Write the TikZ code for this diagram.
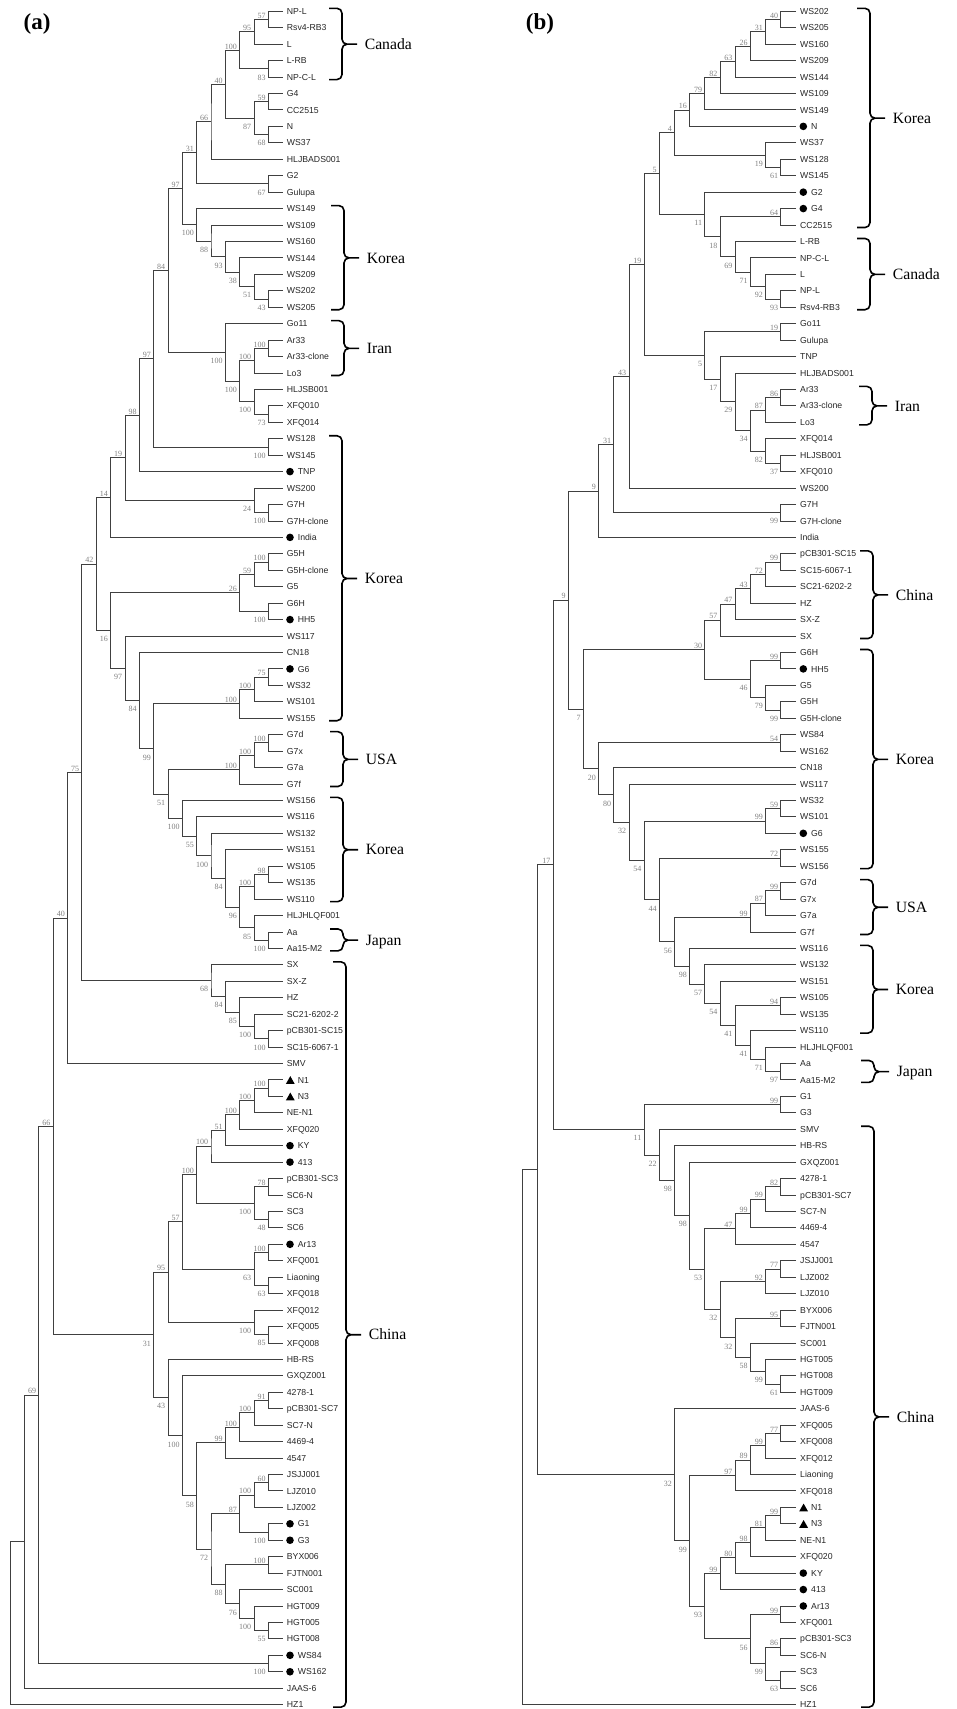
\documentclass[tikz,border=0pt]{standalone}
\usepackage{fontspec}
\setmainfont{Liberation Serif}
\setsansfont{Liberation Sans}
\usetikzlibrary{calc}

% one taxon: end point of its branch plus its name
\newcommand\leaf[4][]{%
  \coordinate (#2) at (\treex,{11.3+(#3-1)*16.44});
  \node[leaftext,#1] (#2t) at (#2) {#4};}
\newcommand\dotleaf[3]{%
  \leaf[xshift=11pt]{#1}{#2}{#3}
  \fill[blob] ([xshift=7.3pt]#1) circle (3.8pt);}
\newcommand\trileaf[3]{%
  \leaf[xshift=11pt]{#1}{#2}{#3}
  \fill[blob] ([shift={(7.6,-3.8)}]#1) -- ++(4.4,7.8) -- ++(-8.8,0) -- cycle;}
% joins two children at depth #4, with its bootstrap value
\newcommand\clade[6]{%
  \path let \p1=(#2), \p2=(#3) in
    coordinate (#1) at ({(\treex-#4*\treestep)*1pt},{0.5*(\y1+\y2)});
  \draw[branch] (#2) -| (#1) |- (#3);
  \node[boot,#6] (#1v) at (#1) {#5};}
% brace over a run of taxa, with the region name
\newcommand\clamp[4]{%
  \draw[brc] let \p1=(#1), \p2=(#2) in
    (#3pt,{\y1+3pt}) -| ({#3pt+13pt},{0.5*(\y1+\y2)}) -- ({#3pt+28pt},{0.5*(\y1+\y2)})
    (#3pt,{\y2-2.5pt}) -| ({#3pt+13pt},{0.5*(\y1+\y2)}) -- ({#3pt+28pt},{0.5*(\y1+\y2)})
    node[region] {#4};}

\begin{document}
\begin{tikzpicture}[x=1pt, y=-1pt,
  branch/.style={draw=black!75, line width=0.9pt},
  leaftext/.style={anchor=west, inner sep=0pt, xshift=4pt, text height=6.2pt, text depth=0pt,
    font=\sffamily\fontsize{8.7}{10}\selectfont, text=black!85},
  blob/.style={fill=black},
  boot/.style={anchor=base east, inner sep=0pt, font=\fontsize{8}{9}\selectfont, text=black!50},
  abv/.style={xshift=-2.6pt, yshift=1.2pt},
  blw/.style={xshift=-2.6pt, yshift=-11.2pt},
  brc/.style={draw=black, line width=1.6pt, rounded corners=5pt},
  region/.style={anchor=west, inner sep=0pt, xshift=7pt, text height=10.4pt, text depth=0pt,
    font=\fontsize{15.7}{18}\selectfont},
  panel/.style={font=\bfseries\fontsize{23}{26}\selectfont, inner sep=0pt}]
\useasboundingbox (0,0) rectangle (957,1709);
\node[panel] (pa) at (37,24) {(a)};
\node[panel] (pb) at (540,24) {(b)};

% ---------------- tree (a)
\def\treex{282.7}\def\treestep{14.34}
\leaf{a1}{1}{NP-L}
\leaf{a2}{2}{Rsv4-RB3}
\leaf{a3}{3}{L}
\leaf{a4}{4}{L-RB}
\leaf{a5}{5}{NP-C-L}
\leaf{a6}{6}{G4}
\leaf{a7}{7}{CC2515}
\leaf{a8}{8}{N}
\leaf{a9}{9}{WS37}
\leaf{a10}{10}{HLJBADS001}
\leaf{a11}{11}{G2}
\leaf{a12}{12}{Gulupa}
\leaf{a13}{13}{WS149}
\leaf{a14}{14}{WS109}
\leaf{a15}{15}{WS160}
\leaf{a16}{16}{WS144}
\leaf{a17}{17}{WS209}
\leaf{a18}{18}{WS202}
\leaf{a19}{19}{WS205}
\leaf{a20}{20}{Go11}
\leaf{a21}{21}{Ar33}
\leaf{a22}{22}{Ar33-clone}
\leaf{a23}{23}{Lo3}
\leaf{a24}{24}{HLJSB001}
\leaf{a25}{25}{XFQ010}
\leaf{a26}{26}{XFQ014}
\leaf{a27}{27}{WS128}
\leaf{a28}{28}{WS145}
\dotleaf{a29}{29}{TNP}
\leaf{a30}{30}{WS200}
\leaf{a31}{31}{G7H}
\leaf{a32}{32}{G7H-clone}
\dotleaf{a33}{33}{India}
\leaf{a34}{34}{G5H}
\leaf{a35}{35}{G5H-clone}
\leaf{a36}{36}{G5}
\leaf{a37}{37}{G6H}
\dotleaf{a38}{38}{HH5}
\leaf{a39}{39}{WS117}
\leaf{a40}{40}{CN18}
\dotleaf{a41}{41}{G6}
\leaf{a42}{42}{WS32}
\leaf{a43}{43}{WS101}
\leaf{a44}{44}{WS155}
\leaf{a45}{45}{G7d}
\leaf{a46}{46}{G7x}
\leaf{a47}{47}{G7a}
\leaf{a48}{48}{G7f}
\leaf{a49}{49}{WS156}
\leaf{a50}{50}{WS116}
\leaf{a51}{51}{WS132}
\leaf{a52}{52}{WS151}
\leaf{a53}{53}{WS105}
\leaf{a54}{54}{WS135}
\leaf{a55}{55}{WS110}
\leaf{a56}{56}{HLJHLQF001}
\leaf{a57}{57}{Aa}
\leaf{a58}{58}{Aa15-M2}
\leaf{a59}{59}{SX}
\leaf{a60}{60}{SX-Z}
\leaf{a61}{61}{HZ}
\leaf{a62}{62}{SC21-6202-2}
\leaf{a63}{63}{pCB301-SC15}
\leaf{a64}{64}{SC15-6067-1}
\leaf{a65}{65}{SMV}
\trileaf{a66}{66}{N1}
\trileaf{a67}{67}{N3}
\leaf{a68}{68}{NE-N1}
\leaf{a69}{69}{XFQ020}
\dotleaf{a70}{70}{KY}
\dotleaf{a71}{71}{413}
\leaf{a72}{72}{pCB301-SC3}
\leaf{a73}{73}{SC6-N}
\leaf{a74}{74}{SC3}
\leaf{a75}{75}{SC6}
\dotleaf{a76}{76}{Ar13}
\leaf{a77}{77}{XFQ001}
\leaf{a78}{78}{Liaoning}
\leaf{a79}{79}{XFQ018}
\leaf{a80}{80}{XFQ012}
\leaf{a81}{81}{XFQ005}
\leaf{a82}{82}{XFQ008}
\leaf{a83}{83}{HB-RS}
\leaf{a84}{84}{GXQZ001}
\leaf{a85}{85}{4278-1}
\leaf{a86}{86}{pCB301-SC7}
\leaf{a87}{87}{SC7-N}
\leaf{a88}{88}{4469-4}
\leaf{a89}{89}{4547}
\leaf{a90}{90}{JSJJ001}
\leaf{a91}{91}{LJZ010}
\leaf{a92}{92}{LJZ002}
\dotleaf{a93}{93}{G1}
\dotleaf{a94}{94}{G3}
\leaf{a95}{95}{BYX006}
\leaf{a96}{96}{FJTN001}
\leaf{a97}{97}{SC001}
\leaf{a98}{98}{HGT009}
\leaf{a99}{99}{HGT005}
\leaf{a100}{100}{HGT008}
\dotleaf{a101}{101}{WS84}
\dotleaf{a102}{102}{WS162}
\leaf{a103}{103}{JAAS-6}
\leaf{a104}{104}{HZ1}

\clade{a1to2}{a1}{a2}{1}{57}{abv}
\clade{a1to3}{a1to2}{a3}{2}{95}{abv}
\clade{a4to5}{a4}{a5}{1}{83}{blw}
\clade{a1to5}{a1to3}{a4to5}{3}{100}{abv}
\clade{a6to7}{a6}{a7}{1}{59}{abv}
\clade{a8to9}{a8}{a9}{1}{68}{blw}
\clade{a6to9}{a6to7}{a8to9}{2}{87}{blw}
\clade{a1to9}{a1to5}{a6to9}{4}{40}{abv}
\clade{a1to10}{a1to9}{a10}{5}{66}{abv}
\clade{a11to12}{a11}{a12}{1}{67}{blw}
\clade{a1to12}{a1to10}{a11to12}{6}{31}{abv}
\clade{a18to19}{a18}{a19}{1}{43}{blw}
\clade{a17to19}{a17}{a18to19}{2}{51}{blw}
\clade{a16to19}{a16}{a17to19}{3}{38}{blw}
\clade{a15to19}{a15}{a16to19}{4}{93}{blw}
\clade{a14to19}{a14}{a15to19}{5}{88}{blw}
\clade{a13to19}{a13}{a14to19}{6}{100}{blw}
\clade{a1to19}{a1to12}{a13to19}{7}{97}{abv}
\clade{a21to22}{a21}{a22}{1}{100}{abv}
\clade{a21to23}{a21to22}{a23}{2}{100}{abv}
\clade{a25to26}{a25}{a26}{1}{73}{blw}
\clade{a24to26}{a24}{a25to26}{2}{100}{blw}
\clade{a21to26}{a21to23}{a24to26}{3}{100}{blw}
\clade{a20to26}{a20}{a21to26}{4}{100}{blw}
\clade{a1to26}{a1to19}{a20to26}{8}{84}{abv}
\clade{a27to28}{a27}{a28}{1}{100}{blw}
\clade{a1to28}{a1to26}{a27to28}{9}{97}{abv}
\clade{a1to29}{a1to28}{a29}{10}{98}{abv}
\clade{a31to32}{a31}{a32}{1}{100}{blw}
\clade{a30to32}{a30}{a31to32}{2}{24}{blw}
\clade{a1to32}{a1to29}{a30to32}{11}{19}{abv}
\clade{a1to33}{a1to32}{a33}{12}{14}{abv}
\clade{a34to35}{a34}{a35}{1}{100}{abv}
\clade{a34to36}{a34to35}{a36}{2}{59}{abv}
\clade{a37to38}{a37}{a38}{1}{100}{blw}
\clade{a34to38}{a34to36}{a37to38}{3}{26}{abv}
\clade{a41to42}{a41}{a42}{1}{75}{abv}
\clade{a41to43}{a41to42}{a43}{2}{100}{abv}
\clade{a41to44}{a41to43}{a44}{3}{100}{abv}
\clade{a45to46}{a45}{a46}{1}{100}{abv}
\clade{a45to47}{a45to46}{a47}{2}{100}{abv}
\clade{a45to48}{a45to47}{a48}{3}{100}{abv}
\clade{a53to54}{a53}{a54}{1}{98}{abv}
\clade{a53to55}{a53to54}{a55}{2}{100}{abv}
\clade{a57to58}{a57}{a58}{1}{100}{blw}
\clade{a56to58}{a56}{a57to58}{2}{85}{blw}
\clade{a53to58}{a53to55}{a56to58}{3}{96}{blw}
\clade{a52to58}{a52}{a53to58}{4}{84}{blw}
\clade{a51to58}{a51}{a52to58}{5}{100}{blw}
\clade{a50to58}{a50}{a51to58}{6}{55}{blw}
\clade{a49to58}{a49}{a50to58}{7}{100}{blw}
\clade{a45to58}{a45to48}{a49to58}{8}{51}{blw}
\clade{a41to58}{a41to44}{a45to58}{9}{99}{blw}
\clade{a40to58}{a40}{a41to58}{10}{84}{blw}
\clade{a39to58}{a39}{a40to58}{11}{97}{blw}
\clade{a34to58}{a34to38}{a39to58}{12}{16}{blw}
\clade{a1to58}{a1to33}{a34to58}{13}{42}{abv}
\clade{a63to64}{a63}{a64}{1}{100}{blw}
\clade{a62to64}{a62}{a63to64}{2}{100}{blw}
\clade{a61to64}{a61}{a62to64}{3}{85}{blw}
\clade{a60to64}{a60}{a61to64}{4}{84}{blw}
\clade{a59to64}{a59}{a60to64}{5}{68}{blw}
\clade{a1to64}{a1to58}{a59to64}{14}{75}{abv}
\clade{a1to65}{a1to64}{a65}{15}{40}{abv}
\clade{a66to67}{a66}{a67}{1}{100}{abv}
\clade{a66to68}{a66to67}{a68}{2}{100}{abv}
\clade{a66to69}{a66to68}{a69}{3}{100}{abv}
\clade{a66to70}{a66to69}{a70}{4}{51}{abv}
\clade{a66to71}{a66to70}{a71}{5}{100}{abv}
\clade{a72to73}{a72}{a73}{1}{78}{abv}
\clade{a74to75}{a74}{a75}{1}{48}{blw}
\clade{a72to75}{a72to73}{a74to75}{2}{100}{blw}
\clade{a66to75}{a66to71}{a72to75}{6}{100}{abv}
\clade{a76to77}{a76}{a77}{1}{100}{abv}
\clade{a78to79}{a78}{a79}{1}{63}{blw}
\clade{a76to79}{a76to77}{a78to79}{2}{63}{blw}
\clade{a66to79}{a66to75}{a76to79}{7}{57}{abv}
\clade{a81to82}{a81}{a82}{1}{85}{blw}
\clade{a80to82}{a80}{a81to82}{2}{100}{blw}
\clade{a66to82}{a66to79}{a80to82}{8}{95}{abv}
\clade{a85to86}{a85}{a86}{1}{91}{abv}
\clade{a85to87}{a85to86}{a87}{2}{100}{abv}
\clade{a85to88}{a85to87}{a88}{3}{100}{abv}
\clade{a85to89}{a85to88}{a89}{4}{99}{abv}
\clade{a90to91}{a90}{a91}{1}{60}{abv}
\clade{a90to92}{a90to91}{a92}{2}{100}{abv}
\clade{a93to94}{a93}{a94}{1}{100}{blw}
\clade{a90to94}{a90to92}{a93to94}{3}{87}{abv}
\clade{a95to96}{a95}{a96}{1}{100}{abv}
\clade{a99to100}{a99}{a100}{1}{55}{blw}
\clade{a98to100}{a98}{a99to100}{2}{100}{blw}
\clade{a97to100}{a97}{a98to100}{3}{76}{blw}
\clade{a95to100}{a95to96}{a97to100}{4}{88}{blw}
\clade{a90to100}{a90to94}{a95to100}{5}{72}{blw}
\clade{a85to100}{a85to89}{a90to100}{6}{58}{blw}
\clade{a84to100}{a84}{a85to100}{7}{100}{blw}
\clade{a83to100}{a83}{a84to100}{8}{43}{blw}
\clade{a66to100}{a66to82}{a83to100}{9}{31}{blw}
\clade{a1to100}{a1to65}{a66to100}{16}{66}{abv}
\clade{a101to102}{a101}{a102}{1}{100}{blw}
\clade{a1to102}{a1to100}{a101to102}{17}{69}{abv}
\clade{a1to103}{a1to102}{a103}{18}{}{abv}
\clade{a1to104}{a1to103}{a104}{19}{}{abv}

\clamp{a1}{a5}{329}{Canada}
\clamp{a13}{a19}{331}{Korea}
\clamp{a20}{a23}{331}{Iran}
\clamp{a27}{a44}{329}{Korea}
\clamp{a45}{a48}{330}{USA}
\clamp{a49}{a55}{330}{Korea}
\clamp{a57}{a58}{330}{Japan}
\clamp{a59}{a104}{333}{China}

% ---------------- tree (b)
\def\treex{796}\def\treestep{15.18}
\leaf{b1}{1}{WS202}
\leaf{b2}{2}{WS205}
\leaf{b3}{3}{WS160}
\leaf{b4}{4}{WS209}
\leaf{b5}{5}{WS144}
\leaf{b6}{6}{WS109}
\leaf{b7}{7}{WS149}
\dotleaf{b8}{8}{N}
\leaf{b9}{9}{WS37}
\leaf{b10}{10}{WS128}
\leaf{b11}{11}{WS145}
\dotleaf{b12}{12}{G2}
\dotleaf{b13}{13}{G4}
\leaf{b14}{14}{CC2515}
\leaf{b15}{15}{L-RB}
\leaf{b16}{16}{NP-C-L}
\leaf{b17}{17}{L}
\leaf{b18}{18}{NP-L}
\leaf{b19}{19}{Rsv4-RB3}
\leaf{b20}{20}{Go11}
\leaf{b21}{21}{Gulupa}
\leaf{b22}{22}{TNP}
\leaf{b23}{23}{HLJBADS001}
\leaf{b24}{24}{Ar33}
\leaf{b25}{25}{Ar33-clone}
\leaf{b26}{26}{Lo3}
\leaf{b27}{27}{XFQ014}
\leaf{b28}{28}{HLJSB001}
\leaf{b29}{29}{XFQ010}
\leaf{b30}{30}{WS200}
\leaf{b31}{31}{G7H}
\leaf{b32}{32}{G7H-clone}
\leaf{b33}{33}{India}
\leaf{b34}{34}{pCB301-SC15}
\leaf{b35}{35}{SC15-6067-1}
\leaf{b36}{36}{SC21-6202-2}
\leaf{b37}{37}{HZ}
\leaf{b38}{38}{SX-Z}
\leaf{b39}{39}{SX}
\leaf{b40}{40}{G6H}
\dotleaf{b41}{41}{HH5}
\leaf{b42}{42}{G5}
\leaf{b43}{43}{G5H}
\leaf{b44}{44}{G5H-clone}
\leaf{b45}{45}{WS84}
\leaf{b46}{46}{WS162}
\leaf{b47}{47}{CN18}
\leaf{b48}{48}{WS117}
\leaf{b49}{49}{WS32}
\leaf{b50}{50}{WS101}
\dotleaf{b51}{51}{G6}
\leaf{b52}{52}{WS155}
\leaf{b53}{53}{WS156}
\leaf{b54}{54}{G7d}
\leaf{b55}{55}{G7x}
\leaf{b56}{56}{G7a}
\leaf{b57}{57}{G7f}
\leaf{b58}{58}{WS116}
\leaf{b59}{59}{WS132}
\leaf{b60}{60}{WS151}
\leaf{b61}{61}{WS105}
\leaf{b62}{62}{WS135}
\leaf{b63}{63}{WS110}
\leaf{b64}{64}{HLJHLQF001}
\leaf{b65}{65}{Aa}
\leaf{b66}{66}{Aa15-M2}
\leaf{b67}{67}{G1}
\leaf{b68}{68}{G3}
\leaf{b69}{69}{SMV}
\leaf{b70}{70}{HB-RS}
\leaf{b71}{71}{GXQZ001}
\leaf{b72}{72}{4278-1}
\leaf{b73}{73}{pCB301-SC7}
\leaf{b74}{74}{SC7-N}
\leaf{b75}{75}{4469-4}
\leaf{b76}{76}{4547}
\leaf{b77}{77}{JSJJ001}
\leaf{b78}{78}{LJZ002}
\leaf{b79}{79}{LJZ010}
\leaf{b80}{80}{BYX006}
\leaf{b81}{81}{FJTN001}
\leaf{b82}{82}{SC001}
\leaf{b83}{83}{HGT005}
\leaf{b84}{84}{HGT008}
\leaf{b85}{85}{HGT009}
\leaf{b86}{86}{JAAS-6}
\leaf{b87}{87}{XFQ005}
\leaf{b88}{88}{XFQ008}
\leaf{b89}{89}{XFQ012}
\leaf{b90}{90}{Liaoning}
\leaf{b91}{91}{XFQ018}
\trileaf{b92}{92}{N1}
\trileaf{b93}{93}{N3}
\leaf{b94}{94}{NE-N1}
\leaf{b95}{95}{XFQ020}
\dotleaf{b96}{96}{KY}
\dotleaf{b97}{97}{413}
\dotleaf{b98}{98}{Ar13}
\leaf{b99}{99}{XFQ001}
\leaf{b100}{100}{pCB301-SC3}
\leaf{b101}{101}{SC6-N}
\leaf{b102}{102}{SC3}
\leaf{b103}{103}{SC6}
\leaf{b104}{104}{HZ1}

\clade{b1to2}{b1}{b2}{1}{40}{abv}
\clade{b1to3}{b1to2}{b3}{2}{31}{abv}
\clade{b1to4}{b1to3}{b4}{3}{26}{abv}
\clade{b1to5}{b1to4}{b5}{4}{63}{abv}
\clade{b1to6}{b1to5}{b6}{5}{82}{abv}
\clade{b1to7}{b1to6}{b7}{6}{79}{abv}
\clade{b1to8}{b1to7}{b8}{7}{16}{abv}
\clade{b10to11}{b10}{b11}{1}{61}{blw}
\clade{b9to11}{b9}{b10to11}{2}{19}{blw}
\clade{b1to11}{b1to8}{b9to11}{8}{4}{abv}
\clade{b13to14}{b13}{b14}{1}{64}{abv}
\clade{b18to19}{b18}{b19}{1}{93}{blw}
\clade{b17to19}{b17}{b18to19}{2}{92}{blw}
\clade{b16to19}{b16}{b17to19}{3}{71}{blw}
\clade{b15to19}{b15}{b16to19}{4}{69}{blw}
\clade{b13to19}{b13to14}{b15to19}{5}{18}{blw}
\clade{b12to19}{b12}{b13to19}{6}{11}{blw}
\clade{b1to19}{b1to11}{b12to19}{9}{5}{abv}
\clade{b20to21}{b20}{b21}{1}{19}{abv}
\clade{b24to25}{b24}{b25}{1}{86}{abv}
\clade{b24to26}{b24to25}{b26}{2}{87}{abv}
\clade{b28to29}{b28}{b29}{1}{37}{blw}
\clade{b27to29}{b27}{b28to29}{2}{82}{blw}
\clade{b24to29}{b24to26}{b27to29}{3}{34}{blw}
\clade{b23to29}{b23}{b24to29}{4}{29}{blw}
\clade{b22to29}{b22}{b23to29}{5}{17}{blw}
\clade{b20to29}{b20to21}{b22to29}{6}{5}{blw}
\clade{b1to29}{b1to19}{b20to29}{10}{19}{abv}
\clade{b1to30}{b1to29}{b30}{11}{43}{abv}
\clade{b31to32}{b31}{b32}{1}{99}{blw}
\clade{b1to32}{b1to30}{b31to32}{12}{31}{abv}
\clade{b1to33}{b1to32}{b33}{13}{9}{abv}
\clade{b34to35}{b34}{b35}{1}{99}{abv}
\clade{b34to36}{b34to35}{b36}{2}{72}{abv}
\clade{b34to37}{b34to36}{b37}{3}{43}{abv}
\clade{b34to38}{b34to37}{b38}{4}{47}{abv}
\clade{b34to39}{b34to38}{b39}{5}{57}{abv}
\clade{b40to41}{b40}{b41}{1}{99}{abv}
\clade{b43to44}{b43}{b44}{1}{99}{blw}
\clade{b42to44}{b42}{b43to44}{2}{79}{blw}
\clade{b40to44}{b40to41}{b42to44}{3}{46}{blw}
\clade{b34to44}{b34to39}{b40to44}{6}{30}{abv}
\clade{b45to46}{b45}{b46}{1}{54}{abv}
\clade{b49to50}{b49}{b50}{1}{59}{abv}
\clade{b49to51}{b49to50}{b51}{2}{99}{abv}
\clade{b52to53}{b52}{b53}{1}{72}{abv}
\clade{b54to55}{b54}{b55}{1}{99}{abv}
\clade{b54to56}{b54to55}{b56}{2}{87}{abv}
\clade{b54to57}{b54to56}{b57}{3}{99}{abv}
\clade{b61to62}{b61}{b62}{1}{94}{abv}
\clade{b65to66}{b65}{b66}{1}{97}{blw}
\clade{b64to66}{b64}{b65to66}{2}{71}{blw}
\clade{b63to66}{b63}{b64to66}{3}{41}{blw}
\clade{b61to66}{b61to62}{b63to66}{4}{41}{blw}
\clade{b60to66}{b60}{b61to66}{5}{54}{blw}
\clade{b59to66}{b59}{b60to66}{6}{57}{blw}
\clade{b58to66}{b58}{b59to66}{7}{98}{blw}
\clade{b54to66}{b54to57}{b58to66}{8}{56}{blw}
\clade{b52to66}{b52to53}{b54to66}{9}{44}{blw}
\clade{b49to66}{b49to51}{b52to66}{10}{54}{blw}
\clade{b48to66}{b48}{b49to66}{11}{32}{blw}
\clade{b47to66}{b47}{b48to66}{12}{80}{blw}
\clade{b45to66}{b45to46}{b47to66}{13}{20}{blw}
\clade{b34to66}{b34to44}{b45to66}{14}{7}{blw}
\clade{b1to66}{b1to33}{b34to66}{15}{9}{abv}
\clade{b67to68}{b67}{b68}{1}{99}{abv}
\clade{b72to73}{b72}{b73}{1}{82}{abv}
\clade{b72to74}{b72to73}{b74}{2}{99}{abv}
\clade{b72to75}{b72to74}{b75}{3}{99}{abv}
\clade{b72to76}{b72to75}{b76}{4}{47}{abv}
\clade{b77to78}{b77}{b78}{1}{77}{abv}
\clade{b77to79}{b77to78}{b79}{2}{92}{abv}
\clade{b80to81}{b80}{b81}{1}{95}{abv}
\clade{b84to85}{b84}{b85}{1}{61}{blw}
\clade{b83to85}{b83}{b84to85}{2}{99}{blw}
\clade{b82to85}{b82}{b83to85}{3}{58}{blw}
\clade{b80to85}{b80to81}{b82to85}{4}{32}{blw}
\clade{b77to85}{b77to79}{b80to85}{5}{32}{blw}
\clade{b72to85}{b72to76}{b77to85}{6}{53}{blw}
\clade{b71to85}{b71}{b72to85}{7}{98}{blw}
\clade{b70to85}{b70}{b71to85}{8}{98}{blw}
\clade{b69to85}{b69}{b70to85}{9}{22}{blw}
\clade{b67to85}{b67to68}{b69to85}{10}{11}{blw}
\clade{b1to85}{b1to66}{b67to85}{16}{17}{abv}
\clade{b87to88}{b87}{b88}{1}{77}{abv}
\clade{b87to89}{b87to88}{b89}{2}{99}{abv}
\clade{b87to90}{b87to89}{b90}{3}{89}{abv}
\clade{b87to91}{b87to90}{b91}{4}{97}{abv}
\clade{b92to93}{b92}{b93}{1}{99}{abv}
\clade{b92to94}{b92to93}{b94}{2}{81}{abv}
\clade{b92to95}{b92to94}{b95}{3}{98}{abv}
\clade{b92to96}{b92to95}{b96}{4}{80}{abv}
\clade{b92to97}{b92to96}{b97}{5}{99}{abv}
\clade{b98to99}{b98}{b99}{1}{99}{abv}
\clade{b100to101}{b100}{b101}{1}{86}{abv}
\clade{b102to103}{b102}{b103}{1}{63}{blw}
\clade{b100to103}{b100to101}{b102to103}{2}{99}{blw}
\clade{b98to103}{b98to99}{b100to103}{3}{56}{blw}
\clade{b92to103}{b92to97}{b98to103}{6}{93}{blw}
\clade{b87to103}{b87to91}{b92to103}{7}{99}{blw}
\clade{b86to103}{b86}{b87to103}{8}{32}{blw}
\clade{b1to103}{b1to85}{b86to103}{17}{}{abv}
\clade{b1to104}{b1to103}{b104}{18}{}{abv}

\clamp{b1}{b14}{857}{Korea}
\clamp{b15}{b19}{857}{Canada}
\clamp{b24}{b26}{859}{Iran}
\clamp{b34}{b39}{860}{China}
\clamp{b40}{b53}{860}{Korea}
\clamp{b54}{b57}{860}{USA}
\clamp{b58}{b63}{860}{Korea}
\clamp{b65}{b66}{861}{Japan}
\clamp{b69}{b104}{861}{China}
\end{tikzpicture}
\end{document}
